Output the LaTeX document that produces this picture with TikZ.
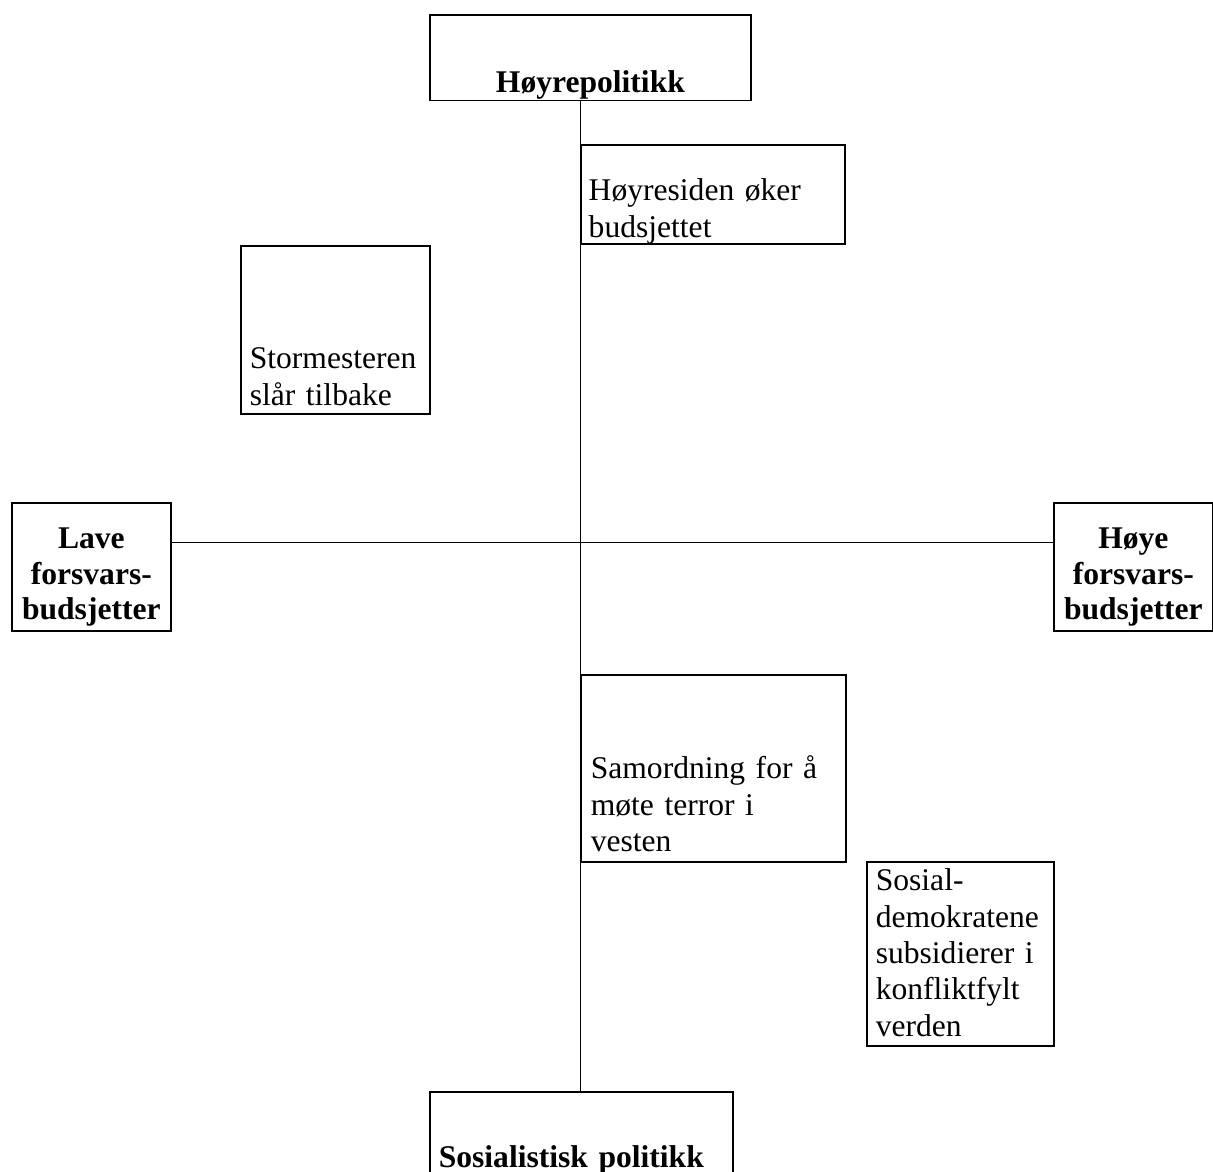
\documentclass[tikz,border=0pt]{standalone}
\usepackage{fontspec}
\setmainfont{Liberation Serif}
\usepackage{tikz}

\begin{document}
\begin{tikzpicture}[x=0.38pt, y=-0.38pt, font=\fontsize{12}{13.8}\selectfont]

\tikzset{box/.style = {draw, line width=0.65pt, anchor=north west, inner ysep=0pt, inner xsep=3pt, align=left}}
\tikzset{pole/.style = {box, align=center, font=\fontsize{12}{13.4}\selectfont\bfseries}}
\tikzset{axis/.style = {line width=0.65pt}}
%\draw[help lines] (0,0) grid (1213,1171);
\useasboundingbox (0,0) rectangle (1213,1171);

\node[pole, inner xsep=0pt, minimum width=122pt, text height=29.6pt, text depth=3pt] (hoyre) at (429,14) {Høyrepolitikk};
\node[box, inner xsep=2.8pt, text width=94.7pt, text height=21.3pt, text depth=16.3pt] (oker) at (580.5,144) {Høyresiden øker\\budsjettet};
\node[box, inner xsep=3.4pt, text width=65pt, text height=46.7pt, text depth=17.1pt] (storm) at (240,245) {Stormesteren\\slår tilbake};
\node[pole, inner xsep=1.2pt, text width=58pt, text height=17.5pt, text depth=31.2pt] (lave) at (11,502) {Lave\\forsvars-\\budsjetter};
\node[pole, inner xsep=1.2pt, text width=58pt, text height=17.5pt, text depth=31.2pt] (hoye) at (1053,502) {Høye\\forsvars-\\budsjetter};
\node[box, inner xsep=3.6pt, text width=93.3pt, text height=39.5pt, text depth=31.5pt] (samord) at (580.5,674) {Samordning for å\\møte terror i\\vesten};
\node[box, inner xsep=3.4pt, text width=64.3pt, text height=11pt, text depth=58.9pt] (sosial) at (866,861) {Sosial-\\demokratene\\subsidierer i\\konfliktfylt\\verden};
\node[pole, align=left, inner xsep=3.4pt, text width=108.3pt, text height=28.9pt, text depth=6.8pt] (sosialist) at (429,1091) {Sosialistisk politikk};

\coordinate (mid) at (580.5,542.5);
\draw[axis] (hoyre.south -| mid) -- (sosialist.north -| mid);
\draw[axis] (lave.east |- mid) -- (hoye.west |- mid);
\end{tikzpicture}
\end{document}
